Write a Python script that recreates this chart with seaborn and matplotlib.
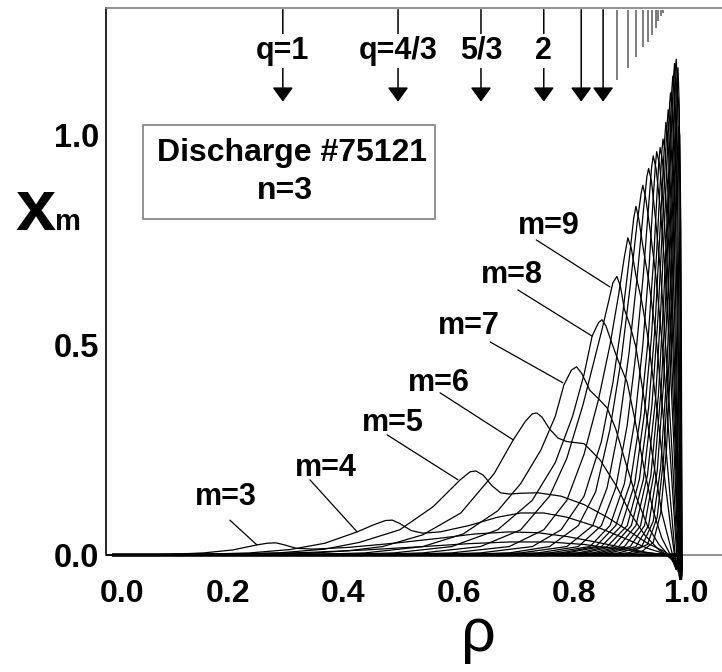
import matplotlib
matplotlib.use("Agg")
import numpy as np
import pandas as pd
import matplotlib.pyplot as plt
import matplotlib.transforms as mtransforms
from matplotlib.patches import Rectangle
import seaborn as sns

# mode amplitudes x_m(rho) as (rho, x_m) points
m2 = [(0.00, 0.000), (0.20, 0.002), (0.35, 0.006), (0.45, 0.012), (0.55, 0.020), (0.63, 0.027),
      (0.70, 0.031), (0.77, 0.031), (0.83, 0.025), (0.89, 0.014), (0.94, 0.005), (0.975, 0.000),
      (0.99, -0.010), (1.00, 0.000)]
m3 = [(0.00, 0.000), (0.10, 0.001), (0.17, 0.005), (0.22, 0.012), (0.262, 0.024), (0.280, 0.028),
      (0.295, 0.029), (0.310, 0.024), (0.330, 0.016), (0.36, 0.014), (0.42, 0.018), (0.50, 0.028),
      (0.58, 0.040), (0.64, 0.050), (0.70, 0.055), (0.75, 0.053), (0.80, 0.044), (0.85, 0.031),
      (0.90, 0.017), (0.94, 0.006), (0.975, 0.000), (0.99, -0.015), (1.00, 0.000)]
m4 = [(0.00, 0.000), (0.15, 0.001), (0.25, 0.005), (0.32, 0.013), (0.38, 0.028), (0.436, 0.055),
      (0.465, 0.072), (0.485, 0.082), (0.497, 0.083), (0.510, 0.075), (0.53, 0.058), (0.55, 0.052),
      (0.58, 0.055), (0.63, 0.070), (0.68, 0.090), (0.72, 0.100), (0.76, 0.100), (0.80, 0.090),
      (0.85, 0.068), (0.90, 0.040), (0.94, 0.016), (0.97, 0.003), (0.99, -0.020), (1.00, 0.000)]
m5 = [(0.00, 0.000), (0.20, 0.001), (0.30, 0.005), (0.38, 0.014), (0.44, 0.030), (0.51, 0.060),
      (0.568, 0.115), (0.615, 0.179), (0.632, 0.198), (0.642, 0.200), (0.655, 0.190), (0.670, 0.165),
      (0.685, 0.148), (0.70, 0.145), (0.72, 0.147), (0.75, 0.148), (0.79, 0.140), (0.83, 0.120),
      (0.87, 0.090), (0.91, 0.055), (0.94, 0.028), (0.97, 0.008), (0.99, -0.020), (1.00, 0.000)]
m6 = [(0.00, 0.000), (0.25, 0.001), (0.35, 0.004), (0.42, 0.010), (0.48, 0.020), (0.55, 0.048),
      (0.616, 0.100), (0.674, 0.194), (0.707, 0.274), (0.728, 0.318), (0.740, 0.336), (0.748, 0.338),
      (0.757, 0.328), (0.770, 0.300), (0.785, 0.278), (0.80, 0.270), (0.83, 0.265), (0.858, 0.226),
      (0.887, 0.162), (0.91, 0.100), (0.935, 0.048), (0.96, 0.012), (0.98, -0.005), (0.99, -0.025),
      (1.00, 0.000)]
m7 = [(0.00, 0.000), (0.35, 0.001), (0.45, 0.005), (0.55, 0.020), (0.62, 0.050), (0.68, 0.105),
      (0.72, 0.170), (0.755, 0.250), (0.78, 0.330), (0.795, 0.405), (0.808, 0.440), (0.817, 0.448),
      (0.826, 0.432), (0.840, 0.392), (0.855, 0.372), (0.870, 0.350), (0.885, 0.300), (0.90, 0.230),
      (0.92, 0.140), (0.94, 0.070), (0.96, 0.025), (0.98, -0.005), (0.99, -0.030), (1.00, 0.000)]
m8 = [(0.00, 0.000), (0.40, 0.001), (0.50, 0.005), (0.60, 0.020), (0.68, 0.060), (0.74, 0.130),
      (0.78, 0.220), (0.81, 0.330), (0.83, 0.430), (0.844, 0.521), (0.855, 0.553), (0.861, 0.560),
      (0.868, 0.545), (0.878, 0.505), (0.89, 0.460), (0.905, 0.410), (0.92, 0.310), (0.935, 0.200),
      (0.95, 0.105), (0.965, 0.040), (0.98, 0.000), (0.99, -0.035), (1.00, 0.000)]
m9 = [(0.00, 0.000), (0.45, 0.001), (0.55, 0.005), (0.65, 0.020), (0.72, 0.060), (0.77, 0.140),
      (0.80, 0.230), (0.828, 0.357), (0.849, 0.471), (0.861, 0.536), (0.872, 0.600), (0.880, 0.648),
      (0.887, 0.663), (0.893, 0.640), (0.900, 0.585), (0.910, 0.545), (0.920, 0.495), (0.935, 0.365),
      (0.950, 0.225), (0.965, 0.100), (0.98, 0.020), (0.99, -0.035), (1.00, 0.000)]
m10 = [(0.00, 0.000), (0.50, 0.001), (0.60, 0.005), (0.70, 0.020), (0.76, 0.060), (0.80, 0.130),
       (0.83, 0.240), (0.855, 0.370), (0.875, 0.500), (0.890, 0.620), (0.900, 0.710), (0.906, 0.755),
       (0.912, 0.730), (0.920, 0.665), (0.930, 0.605), (0.940, 0.525), (0.955, 0.365), (0.970, 0.180),
       (0.980, 0.070), (0.99, -0.030), (1.00, 0.000)]
m11 = [(0.00, 0.000), (0.55, 0.001), (0.65, 0.005), (0.74, 0.020), (0.79, 0.060), (0.83, 0.140),
       (0.86, 0.270), (0.88, 0.410), (0.895, 0.550), (0.908, 0.700), (0.916, 0.800), (0.920, 0.830),
       (0.925, 0.800), (0.932, 0.735), (0.942, 0.655), (0.955, 0.520), (0.968, 0.320), (0.980, 0.130),
       (0.99, -0.030), (1.00, 0.000)]
m12 = [(0.00, 0.000), (0.60, 0.001), (0.70, 0.005), (0.77, 0.020), (0.82, 0.070), (0.85, 0.150),
       (0.875, 0.300), (0.895, 0.470), (0.910, 0.640), (0.922, 0.790), (0.929, 0.860), (0.932, 0.880),
       (0.937, 0.850), (0.945, 0.770), (0.955, 0.660), (0.967, 0.480), (0.978, 0.270), (0.988, 0.060),
       (0.993, -0.040), (1.00, 0.000)]
m13 = [(0.00, 0.000), (0.62, 0.001), (0.72, 0.005), (0.80, 0.020), (0.845, 0.070), (0.870, 0.160),
       (0.890, 0.300), (0.908, 0.480), (0.922, 0.660), (0.933, 0.820), (0.939, 0.900), (0.942, 0.920),
       (0.947, 0.890), (0.954, 0.800), (0.963, 0.670), (0.973, 0.470), (0.983, 0.240), (0.990, 0.050),
       (0.995, -0.050), (1.00, 0.000)]
m14 = [(0.00, 0.000), (0.65, 0.001), (0.75, 0.005), (0.82, 0.020), (0.860, 0.070), (0.885, 0.160),
       (0.905, 0.310), (0.920, 0.480), (0.933, 0.670), (0.942, 0.830), (0.947, 0.920), (0.950, 0.950),
       (0.955, 0.920), (0.962, 0.830), (0.970, 0.690), (0.978, 0.500), (0.986, 0.260), (0.992, 0.040),
       (0.996, -0.060), (1.00, 0.000)]
m15 = [(0.00, 0.000), (0.68, 0.001), (0.77, 0.005), (0.84, 0.020), (0.875, 0.070), (0.900, 0.170),
       (0.918, 0.320), (0.932, 0.500), (0.943, 0.690), (0.950, 0.850), (0.954, 0.930), (0.956, 0.960),
       (0.961, 0.930), (0.967, 0.840), (0.974, 0.700), (0.981, 0.500), (0.988, 0.260), (0.993, 0.040),
       (0.997, -0.060), (1.00, 0.000)]
m16 = [(0.00, 0.000), (0.70, 0.001), (0.79, 0.005), (0.85, 0.020), (0.885, 0.070), (0.910, 0.170),
       (0.928, 0.330), (0.941, 0.510), (0.951, 0.710), (0.957, 0.870), (0.960, 0.940), (0.962, 0.970),
       (0.966, 0.940), (0.972, 0.850), (0.978, 0.710), (0.984, 0.500), (0.990, 0.240), (0.994, 0.030),
       (0.997, -0.060), (1.00, 0.000)]
m17 = [(0.00, 0.000), (0.72, 0.001), (0.80, 0.005), (0.86, 0.020), (0.895, 0.070), (0.918, 0.170),
       (0.935, 0.340), (0.947, 0.520), (0.956, 0.720), (0.962, 0.880), (0.965, 0.960), (0.967, 0.990),
       (0.971, 0.960), (0.976, 0.860), (0.981, 0.720), (0.986, 0.500), (0.991, 0.240), (0.995, 0.020),
       (0.998, -0.060), (1.00, 0.000)]
m18 = [(0.00, 0.000), (0.74, 0.001), (0.82, 0.005), (0.87, 0.020), (0.905, 0.070), (0.926, 0.180),
       (0.942, 0.350), (0.953, 0.540), (0.961, 0.750), (0.967, 0.910), (0.970, 0.990), (0.972, 1.030),
       (0.975, 1.000), (0.979, 0.900), (0.984, 0.740), (0.988, 0.520), (0.992, 0.250), (0.996, 0.020),
       (0.998, -0.060), (1.00, 0.000)]
m19 = [(0.00, 0.000), (0.76, 0.001), (0.83, 0.005), (0.88, 0.020), (0.912, 0.070), (0.933, 0.180),
       (0.948, 0.360), (0.958, 0.560), (0.966, 0.780), (0.971, 0.940), (0.974, 1.020), (0.976, 1.060),
       (0.979, 1.030), (0.983, 0.920), (0.987, 0.750), (0.990, 0.520), (0.993, 0.260), (0.996, 0.030),
       (0.998, -0.070), (1.00, 0.000)]
m20 = [(0.00, 0.000), (0.78, 0.001), (0.845, 0.005), (0.89, 0.020), (0.920, 0.070), (0.940, 0.190),
       (0.954, 0.370), (0.963, 0.580), (0.970, 0.800), (0.975, 0.970), (0.978, 1.060), (0.980, 1.100),
       (0.983, 1.060), (0.986, 0.950), (0.989, 0.780), (0.992, 0.540), (0.995, 0.270), (0.997, 0.030),
       (0.999, -0.070), (1.00, 0.000)]
m21 = [(0.00, 0.000), (0.80, 0.001), (0.855, 0.005), (0.90, 0.020), (0.928, 0.070), (0.946, 0.190),
       (0.959, 0.380), (0.968, 0.600), (0.975, 0.830), (0.979, 1.000), (0.982, 1.100), (0.984, 1.140),
       (0.986, 1.100), (0.989, 0.980), (0.991, 0.800), (0.993, 0.560), (0.995, 0.300), (0.997, 0.050),
       (0.999, -0.080), (1.00, 0.000)]
m22 = [(0.00, 0.000), (0.82, 0.001), (0.865, 0.005), (0.91, 0.020), (0.935, 0.070), (0.952, 0.200),
       (0.964, 0.400), (0.972, 0.620), (0.978, 0.860), (0.982, 1.030), (0.985, 1.130), (0.987, 1.170),
       (0.989, 1.120), (0.991, 0.980), (0.993, 0.780), (0.995, 0.520), (0.997, 0.250), (0.999, 0.000),
       (1.00, -0.040)]
m23 = [(0.00, 0.000), (0.84, 0.001), (0.875, 0.005), (0.92, 0.020), (0.942, 0.070), (0.957, 0.200),
       (0.968, 0.410), (0.976, 0.640), (0.982, 0.880), (0.986, 1.060), (0.988, 1.150), (0.990, 1.180),
       (0.992, 1.120), (0.994, 0.940), (0.996, 0.660), (0.998, 0.300), (0.999, 0.000), (1.00, -0.050)]
m24 = [(0.00, 0.000), (0.86, 0.001), (0.89, 0.005), (0.93, 0.020), (0.950, 0.080), (0.963, 0.210),
       (0.973, 0.420), (0.980, 0.660), (0.985, 0.890), (0.989, 1.060), (0.991, 1.130), (0.993, 1.160),
       (0.995, 1.080), (0.997, 0.800), (0.998, 0.500), (0.999, 0.200), (1.00, -0.040)]
m25 = [(0.00, 0.000), (0.88, 0.001), (0.91, 0.006), (0.94, 0.025), (0.957, 0.090), (0.968, 0.230),
       (0.977, 0.450), (0.984, 0.700), (0.988, 0.900), (0.991, 1.040), (0.993, 1.090), (0.995, 1.060),
       (0.997, 0.850), (0.998, 0.600), (0.999, 0.300), (1.00, -0.030)]
m26 = [(0.00, 0.000), (0.90, 0.001), (0.93, 0.008), (0.95, 0.030), (0.963, 0.100), (0.973, 0.250),
       (0.981, 0.480), (0.987, 0.730), (0.991, 0.920), (0.994, 1.020), (0.996, 1.000), (0.998, 0.780),
       (0.999, 0.450), (1.00, -0.020)]

mode_numbers = list(range(2, 27))
mode_points = [m2, m3, m4, m5, m6, m7, m8, m9, m10, m11, m12, m13, m14, m15, m16, m17, m18,
               m19, m20, m21, m22, m23, m24, m25, m26]

# labels m=3..9 with their leader lines
lab_m = ["m=3", "m=4", "m=5", "m=6", "m=7", "m=8", "m=9"]
lab_rho = [0.208, 0.382, 0.498, 0.577, 0.630, 0.705, 0.769]
lab_x = [0.138, 0.207, 0.314, 0.410, 0.545, 0.667, 0.783]
lead_rho0 = [0.215, 0.354, 0.488, 0.580, 0.667, 0.715, 0.747]
lead_x0 = [0.083, 0.179, 0.286, 0.386, 0.507, 0.631, 0.750]
lead_rho1 = [0.262, 0.436, 0.611, 0.707, 0.793, 0.844, 0.875]
lead_x1 = [0.024, 0.055, 0.179, 0.274, 0.410, 0.521, 0.638]

# rational surfaces marked at the top
q_rho = [0.307, 0.507, 0.651, 0.760, 0.825, 0.863]
q_text = ["q=1", "q=4/3", "5/3", "2", "", ""]
surf_rho = [0.887, 0.907, 0.921, 0.932, 0.941, 0.948, 0.954, 0.959, 0.963, 0.967]
surf_bottom = [1.131, 1.160, 1.186, 1.208, 1.222, 1.238, 1.255, 1.270, 1.282, 1.290]

x_major = [0.0, 0.2, 0.4, 0.6, 0.8, 1.0]
x_minor = [0.1, 0.3, 0.5, 0.7, 0.9]
y_major = [0.0, 0.5, 1.0]
y_minor = [0.1, 0.2, 0.3, 0.4, 0.6, 0.7, 0.8, 0.9, 1.1, 1.2]

sns.set_style("white")
plt.rcParams["font.family"] = ["Liberation Sans", "DejaVu Sans"]
plt.rcParams["text.color"] = "black"

frames = []
for m, pts in zip(mode_numbers, mode_points):
    d = pd.DataFrame(pts, columns=["rho", "xm"])
    d["m"] = m
    frames.append(d)
df = pd.concat(frames, ignore_index=True)

fig = plt.figure(figsize=(7.22, 6.72), dpi=100)
ax = fig.add_axes([106 / 722, (672 - 580.2) / 672, 616 / 722, 572.2 / 672])

sns.lineplot(data=df, x="rho", y="xm", units="m", estimator=None, sort=False,
             color="black", lw=0.9, legend=False, ax=ax, zorder=3)
# the pile of near-zero curves shows as a heavy base line
ax.hlines(0, x_major[0] + 0.01, x_major[-1], colors="black", lw=2.6, zorder=3)

ax.set_xlim(0, 616 / 576)
ax.set_ylim(-0.06, 1.302)
ax.set_xlabel("")
ax.set_ylabel("")

# axes frame
ax.spines["right"].set_visible(False)
ax.spines["bottom"].set_position(("data", 0))
ax.spines["bottom"].set_color("#808080")
ax.spines["top"].set_color("#808080")
ax.spines["left"].set_color("black")
ax.spines["left"].set_bounds(0, 1.302)
for s in ["top", "bottom", "left"]:
    ax.spines[s].set_linewidth(1.2)

ax.set_xticks(x_major)
ax.set_xticks(x_minor, minor=True)
ax.set_xticklabels([f"{v:.1f}" for v in x_major])
ax.set_yticks(y_major)
ax.set_yticks(y_minor, minor=True)
ax.set_yticklabels([f"{v:.1f}" for v in y_major])
ax.tick_params(axis="x", which="both", direction="in", length=12, width=1.0, color="#333333",
               pad=17, labelsize=23, labelcolor="black")
ax.tick_params(axis="y", which="both", direction="in", length=17, width=1.2, color="#808080",
               pad=5, labelsize=23.5, labelcolor="black")
for lab in ax.get_xticklabels() + ax.get_yticklabels():
    lab.set_fontweight("bold")
for i, lab in enumerate(ax.get_xticklabels()):
    dx = 16 if i == 0 else (4 if i == len(x_major) - 1 else 7)
    lab.set_transform(lab.get_transform() + mtransforms.ScaledTranslation(dx / 100, 0, fig.dpi_scale_trans))

# leader lines and mode labels
for i in range(len(lab_m)):
    ax.plot([lead_rho0[i], lead_rho1[i]], [lead_x0[i], lead_x1[i]], color="black", lw=0.9, zorder=3)
    ax.text(lab_rho[i], lab_x[i], lab_m[i], ha="center", va="center", fontsize=22,
            fontweight="bold", zorder=5)

# q-surface arrows
for r, t in zip(q_rho, q_text):
    ax.annotate("", xy=(r, 1.079), xytext=(r, 1.298),
                arrowprops=dict(arrowstyle="-|>,head_length=0.55,head_width=0.4", color="black",
                                lw=1.1, mutation_scale=16, shrinkA=0, shrinkB=0), zorder=2)
    if t:
        ax.text(r, 1.20, t, ha="center", va="center", fontsize=22, fontweight="bold", zorder=5,
                bbox=dict(facecolor="white", edgecolor="none", pad=1.5))
ax.vlines(surf_rho, surf_bottom, 1.298, colors="#666666", lw=1.2, zorder=2)

# discharge box
ax.add_patch(Rectangle((0.064, 0.80), 0.507, 0.224, facecolor="white", edgecolor="#808080",
                       lw=1.2, zorder=4))
ax.text(0.323, 0.958, "Discharge #75121", ha="center", va="center", fontsize=23,
        fontweight="bold", zorder=5)
ax.text(0.311, 0.866, "n=3", ha="center", va="center", fontsize=23, fontweight="bold", zorder=5)

# axis titles
fig.text(478 / 722, 1 - 651 / 672, "\u03c1", ha="center", va="baseline", fontsize=44)
fig.text(36 / 722, 1 - 230 / 672, "x", ha="center", va="baseline", fontsize=52, fontweight="bold")
fig.text(55 / 722, 1 - 230 / 672, "m", ha="left", va="baseline", fontsize=21, fontweight="bold")

fig.savefig("out.png", dpi=100)
